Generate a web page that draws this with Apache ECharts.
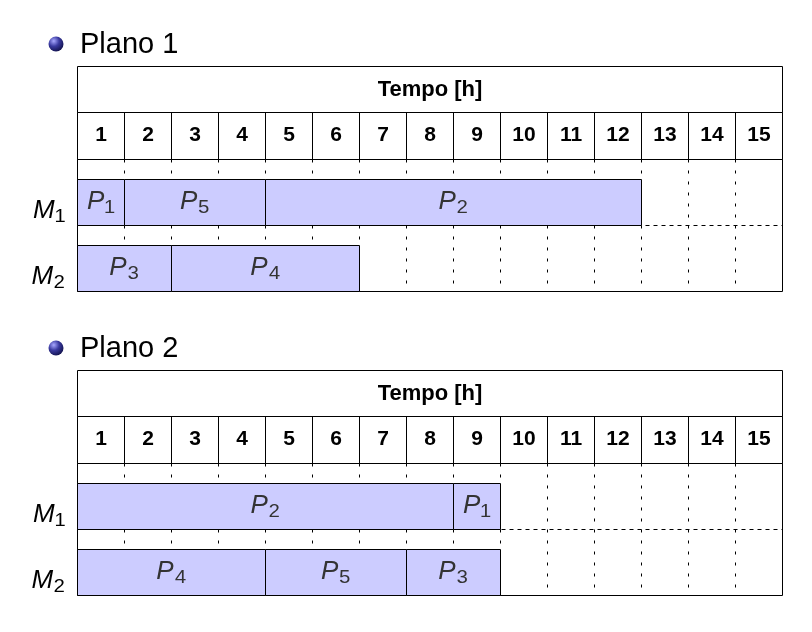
<!DOCTYPE html>
<html>
<head>
<meta charset="utf-8">
<script src="https://cdn.jsdelivr.net/npm/echarts@6/dist/echarts.min.js"></script>
<style>
html,body{margin:0;padding:0;background:#fff;}
#chart{width:812px;height:632px;}
</style>
</head>
<body>
<div id="chart"></div>
<script>
// ---- data ----
const hours = ['1','2','3','4','5','6','7','8','9','10','11','12','13','14','15'];
const headerTitle = ['Tempo [h]'];
const machines = ['1','2'];            // M1, M2 subscripts
const planTitles = ['Plano 1', 'Plano 2'];

// Plano 1
const plan1Job     = ['1','5','2','3','4'];
const plan1Machine = [0, 0, 0, 1, 1];
const plan1Start   = [0, 1, 4, 0, 2];
const plan1End     = [1, 4, 12, 2, 6];

// Plano 2
const plan2Job     = ['2','1','4','5','3'];
const plan2Machine = [0, 0, 1, 1, 1];
const plan2Start   = [0, 8, 0, 4, 7];
const plan2End     = [8, 9, 4, 7, 9];

const plans = [
  {job: plan1Job, machine: plan1Machine, start: plan1Start, end: plan1End},
  {job: plan2Job, machine: plan2Machine, start: plan2Start, end: plan2End}
];

// ---- layout ----
const FONT = 'Liberation Sans, DejaVu Sans, Arial, Helvetica, sans-serif';
const LEFT = 77.5, WIDTH = 705;
const planTop = [66.5, 370.5];
const HEAD_H = 46, NUM_H = 47, CHART_H = 132;
const BAR_RATIO = 46 / 66;

const SUB_DIGITS = '\u2080\u2081\u2082\u2083\u2084\u2085\u2086\u2087\u2088\u2089';
function toSub(str) { return String(str).replace(/\d/g, d => SUB_DIGITS[+d]); }

const subRich = {
  p: {fontFamily: FONT, fontStyle: 'italic', fontSize: 26, color: '#000'},
  s: {fontFamily: FONT, fontSize: 32, color: '#000'}
};

const grid = [], xAxis = [], yAxis = [], series = [], graphic = [];

plans.forEach((plan, k) => {
  const top = planTop[k];
  const gBase = k * 3;
  grid.push({left: LEFT, top: top, width: WIDTH, height: HEAD_H, show: true, borderColor: '#000', borderWidth: 1});
  grid.push({left: LEFT, top: top + HEAD_H, width: WIDTH, height: NUM_H, show: true, borderColor: '#000', borderWidth: 1});
  grid.push({left: LEFT, top: top + HEAD_H + NUM_H, width: WIDTH, height: CHART_H, show: true, borderColor: '#000', borderWidth: 1});

  xAxis.push({
    gridIndex: gBase, type: 'category', data: headerTitle,
    axisLine: {show: false}, axisTick: {show: false}, splitLine: {show: false},
    axisLabel: {inside: true, margin: 23, verticalAlign: 'middle', fontFamily: FONT, fontWeight: 'bold', fontSize: 22, color: '#000'}
  });
  xAxis.push({
    gridIndex: gBase + 1, type: 'category', data: hours,
    axisLine: {show: false}, axisTick: {show: false},
    splitLine: {show: true, interval: 0, showMinLine: false, showMaxLine: false, lineStyle: {color: '#000', width: 1, type: 'solid'}},
    axisLabel: {inside: true, interval: 0, margin: 24, verticalAlign: 'middle', fontFamily: FONT, fontWeight: 'bold', fontSize: 21, color: '#000'}
  });
  xAxis.push({
    gridIndex: gBase + 2, type: 'value', min: 0, max: 15, interval: 1,
    axisLine: {show: false}, axisTick: {show: false}, axisLabel: {show: false},
    splitLine: {show: true, showMinLine: false, showMaxLine: false, lineStyle: {color: '#000', width: 1, type: [3, 8]}}
  });

  yAxis.push({gridIndex: gBase, type: 'value', show: false});
  yAxis.push({gridIndex: gBase + 1, type: 'value', show: false});
  yAxis.push({
    gridIndex: gBase + 2, type: 'category', data: machines, inverse: true,
    axisLine: {show: false}, axisTick: {show: false},
    splitLine: {show: true, interval: 0, showMinLine: false, showMaxLine: false, lineStyle: {color: '#000', width: 1, type: [4, 4]}},
    axisLabel: {
      margin: 12, align: 'right', verticalAlign: 'middle', padding: [36, 0, 0, 0],
      formatter: v => '{p|M}{s|' + toSub(v) + '}',
      rich: subRich
    }
  });

  const data = plan.job.map((j, i) => [plan.machine[i], plan.start[i], plan.end[i]]);
  series.push({
    type: 'custom',
    xAxisIndex: gBase + 2, yAxisIndex: gBase + 2,
    encode: {x: [1, 2], y: 0},
    data: data,
    z: 5,
    renderItem: function (params, api) {
      const cat = api.value(0), s = api.value(1), e = api.value(2);
      const p0 = api.coord([s, cat]);
      const p1 = api.coord([e, cat]);
      const band = api.size([0, 1])[1];
      const h = band * BAR_RATIO;
      const bottom = p0[1] + band / 2;
      const x0 = Math.floor(p0[0]) + 0.5, x1 = Math.floor(p1[0]) + 0.5;
      const yb = Math.floor(bottom) + 0.5, yt = Math.floor(bottom - h) + 0.5;
      return {
        type: 'rect',
        shape: {x: x0, y: yt, width: x1 - x0, height: yb - yt},
        style: {fill: '#ccccff', stroke: '#000', lineWidth: 1},
        textContent: {
          style: {text: '{p|P}{s|' + toSub(plan.job[params.dataIndex]) + '}', rich: subRich}
        },
        textConfig: {position: 'inside', offset: [0, -1]}
      };
    }
  });

  const ty = top - 22.5;
  graphic.push({
    type: 'circle', shape: {cx: 56, cy: ty, r: 7.5},
    style: {fill: {type: 'radial', x: 0.35, y: 0.3, r: 0.8, colorStops: [
      {offset: 0, color: '#a8a8ff'}, {offset: 0.45, color: '#3a3aa0'}, {offset: 1, color: '#0c0c40'}]}}
  });
  graphic.push({
    type: 'text', left: 80, top: ty - 14,
    style: {text: planTitles[k], fontFamily: FONT, fontSize: 29, fill: '#000'}
  });
});

const chart = echarts.init(document.getElementById('chart'), null, {renderer: 'canvas'});
chart.setOption({
  animation: false,
  backgroundColor: '#fff',
  grid: grid, xAxis: xAxis, yAxis: yAxis, series: series, graphic: graphic
});
</script>
</body>
</html>
